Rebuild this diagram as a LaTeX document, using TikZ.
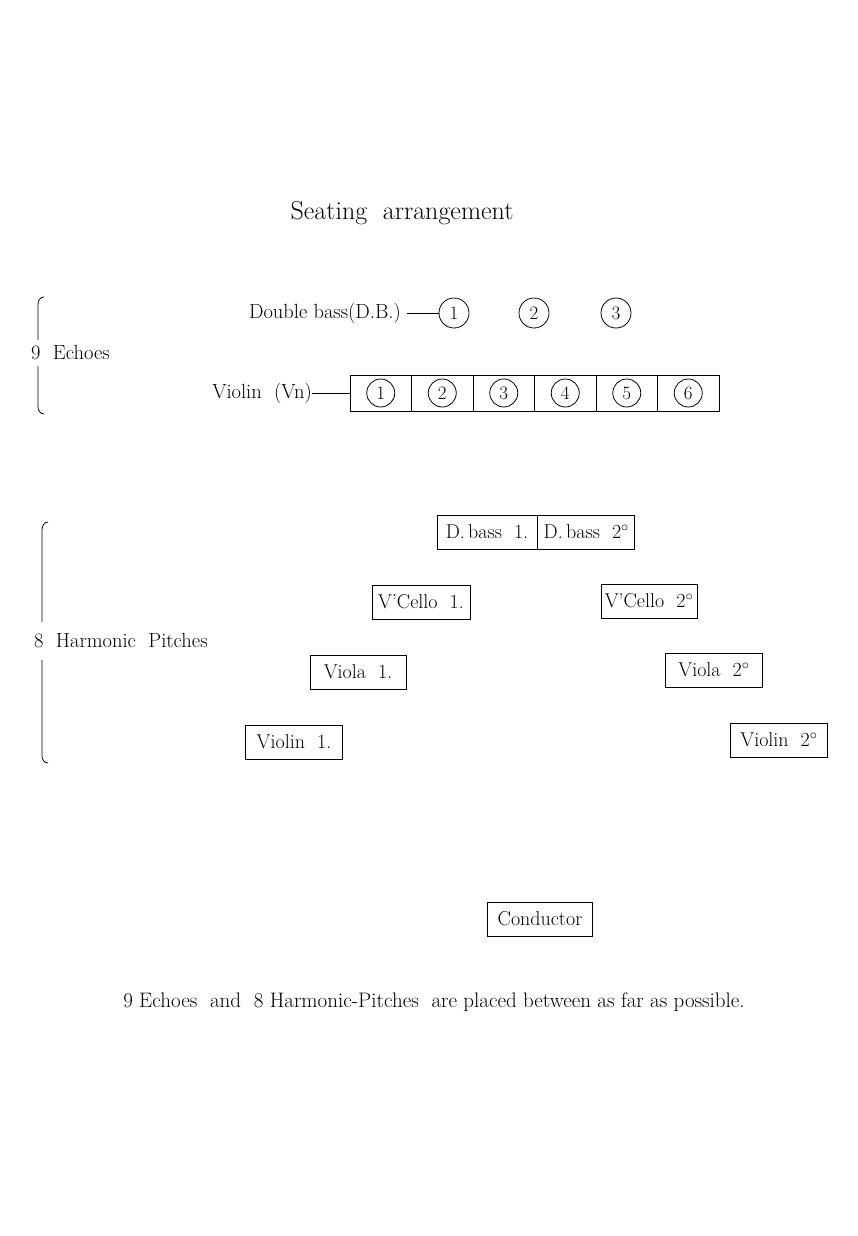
\documentclass[tikz,border=0pt]{standalone}
\usepackage{tikz}
\usepackage{xcolor}
\tikzset{
  seat/.style={draw, thick, minimum height=34pt, inner sep=2pt, font=\fontsize{20}{22}\selectfont},
  num/.style={draw, thick, circle, minimum size=30pt, inner sep=0pt, font=\fontsize{19}{21}\selectfont},
  cell/.style={draw, thick, minimum width=61.5pt, minimum height=36pt, inner sep=0pt},
  lbl/.style={font=\fontsize{20.5}{22}\selectfont, inner sep=0pt}
}
\begin{document}
\begin{tikzpicture}[x=1pt,y=-1pt]
    \useasboundingbox (0,0) rectangle (858,1236);
    \node[font=\fontsize{26}{28}\selectfont] (title) at (402,213) {Seating~ arrangement};

    % echoes group
    \draw[thick] (44,297) to[out=180,in=90] (38,304) -- (38,340);
    \draw[thick] (38,366) -- (38,407) to[out=-90,in=180] (44,414);
    \node[lbl, anchor=west] (echoes) at (31,353) {9~~Echoes};

    \node[lbl, anchor=east] (db) at (401,313) {Double bass(D.B.)};
    \node[num] (db1) at (454,313) {1};
    \node[num] (db2) at (534,313) {2};
    \node[num] (db3) at (616,313) {3};
    \draw[thick] (db.east) ++(6,0) -- (db1.west);

    \foreach \i in {1,...,6} {
      \node[cell] (vn\i) at ({350+61.5*(\i-0.5)},393) {};
      \node[num, minimum size=28pt] at (vn\i) {\i};
    }
    \node[lbl, anchor=east] (vn) at (312,393) {Violin~~(Vn)};
    \draw[thick] (vn.east) -- (vn.east -| vn1.west);

    % harmonic pitches group
    \draw[thick] (48,522) to[out=180,in=90] (42,530) -- (42,622);
    \draw[thick] (42,660) -- (42,756) to[out=-90,in=180] (48,763);
    \node[lbl, anchor=west] (hp) at (34,641) {8~~Harmonic~~Pitches};

    \node[seat, minimum width=100pt] (dbass1) at (487,532) {D.\,bass~~1.};
    \node[seat, minimum width=97pt, anchor=west] (dbass2) at (dbass1.east) {D.\,bass~~2$^{\circ}$};
    \node[seat, minimum width=98pt] (vc1) at (421,602) {V'Cello~~1.};
    \node[seat, minimum width=96pt] (vc2) at (649,601) {V'Cello~~2$^{\circ}$};
    \node[seat, minimum width=96pt] (va1) at (358,672) {Viola~~1.};
    \node[seat, minimum width=97pt] (va2) at (714,670) {Viola~~2$^{\circ}$};
    \node[seat, minimum width=97pt] (vl1) at (294,742) {Violin~~1.};
    \node[seat, minimum width=97pt] (vl2) at (779,740) {Violin~~2$^{\circ}$};

    \node[seat, minimum width=105pt] (cond) at (540,919) {Conductor};

    \node[lbl, font=\fontsize{21}{23}\selectfont] (note) at (434,1002) {9 Echoes~ and~ 8 Harmonic-Pitches~ are placed between as far as possible.};
\end{tikzpicture}
\end{document}
